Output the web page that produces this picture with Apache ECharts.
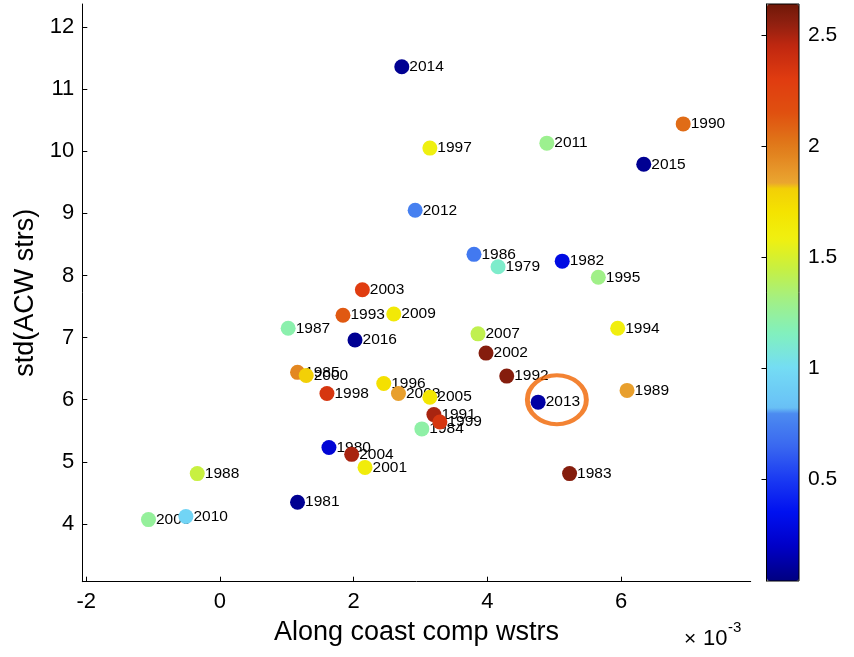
<!DOCTYPE html>
<html>
<head>
<meta charset="utf-8">
<script src="https://cdn.jsdelivr.net/npm/echarts@6/dist/echarts.min.js"></script>
<style>html,body{margin:0;padding:0;background:#fff;}#c{width:854px;height:657px;}</style>
</head>
<body>
<div id="c"></div>
<script>
// ---- data ----
const years = ['2014','1997','2011','1990','2015','2012','1986','1979','1982','1995',
  '2003','1993','2009','1987','2016','2007','2002','1994','1985','2000',
  '1998','1996','2008','2005','1991','1999','1984','1992','2013','1989',
  '1980','2004','2001','1983','1988','1981','2006','2010'];
const xVals = [2.72,3.14,4.89,6.93,6.34,2.92,3.80,4.16,5.12,5.66,
  2.13,1.84,2.60,1.02,2.02,3.86,3.98,5.95,1.16,1.29,
  1.60,2.45,2.67,3.14,3.20,3.29,3.02,4.29,4.76,6.09,
  1.63,1.97,2.17,5.23,-0.34,1.16,-1.07,-0.51];
const yVals = [11.36,10.05,10.13,10.44,9.79,9.05,8.34,8.14,8.23,7.97,
  7.77,7.36,7.38,7.15,6.96,7.06,6.75,7.15,6.44,6.39,
  6.10,6.26,6.10,6.04,5.76,5.64,5.53,6.38,5.96,6.15,
  5.23,5.12,4.91,4.81,4.81,4.35,4.07,4.12];
const cVals = [0.08,1.58,1.28,2.05,0.08,0.75,0.72,1.12,0.30,1.30,
  2.30,2.12,1.65,1.20,0.08,1.42,2.58,1.60,1.95,1.80,
  2.35,1.72,1.86,1.68,2.50,2.35,1.22,2.58,0.12,1.86,
  0.25,2.50,1.62,2.58,1.45,0.08,1.25,0.95];
const xTicks = [-2,0,2,4,6];
const yTicks = [4,5,6,7,8,9,10,11,12];
const cTicks = [0.5,1,1.5,2,2.5];
const highlight = [[5.04, 6.00]];

// ---- style: colormap ----
const cMin = 0.04, cMax = 2.64;
const cmapStops = [
  [0.04,'#000080'],[0.20,'#0000c8'],[0.35,'#0010f0'],[0.50,'#1a3af2'],[0.65,'#3a68f0'],
  [0.798,'#4c8cf0'],[0.802,'#66bcf4'],[0.85,'#6ac4f6'],[1.00,'#74dcf4'],[1.15,'#80f0c0'],
  [1.30,'#a0f088'],[1.45,'#c8f040'],[1.58,'#f0f010'],[1.70,'#f4e400'],[1.822,'#f2cc08'],
  [1.826,'#eaa830'],[1.90,'#e69428'],[2.00,'#e07a1a'],[2.15,'#e05010'],[2.30,'#e03c10'],
  [2.45,'#c02810'],[2.55,'#902010'],[2.64,'#701808']];
function hex2rgb(h){return [parseInt(h.slice(1,3),16),parseInt(h.slice(3,5),16),parseInt(h.slice(5,7),16)];}
function sampleCmap(v){
  for(let i=0;i<cmapStops.length-1;i++){
    const a=cmapStops[i],b=cmapStops[i+1];
    if(v<=b[0]){
      const t=Math.max(0,Math.min(1,(v-a[0])/(b[0]-a[0])));
      const ca=hex2rgb(a[1]),cb=hex2rgb(b[1]);
      return 'rgb('+ca.map((x,k)=>Math.round(x+(cb[k]-x)*t)).join(',')+')';
    }
  }
  return cmapStops[cmapStops.length-1][1];
}
const N=400, cmapColors=[];
for(let i=0;i<N;i++){cmapColors.push(sampleCmap(cMin+(cMax-cMin)*i/(N-1)));}

const pts = years.map((y,i)=>[xVals[i],yVals[i],cVals[i],y]);
const FONT = '"Liberation Sans", Arial, Helvetica, sans-serif';

const chart = echarts.init(document.getElementById('c'), null, {renderer:'canvas'});
chart.setOption({
  animation:false,
  backgroundColor:'#fff',
  textStyle:{fontFamily:FONT},
  grid:[
    {left:82.3, right:103.3, top:4, bottom:75.3, containLabel:false},
    {left:766.5, top:4, width:32.5, height:577, show:true, borderColor:'#000', borderWidth:1, backgroundColor:'rgba(0,0,0,0)', z:10}
  ],
  xAxis:[
    {type:'value', gridIndex:0, min:-2.06, max:7.94,
     axisLine:{show:true, onZero:false, lineStyle:{color:'#000', width:1}},
     axisTick:{show:true, inside:true, length:5, customValues:xTicks, lineStyle:{color:'#000'}},
     axisLabel:{show:true, customValues:xTicks, color:'#000', fontSize:22, margin:9, fontFamily:FONT},
     splitLine:{show:false},
     name:'Along coast comp wstrs', nameLocation:'middle', nameGap:37,
     nameTextStyle:{color:'#000', fontSize:27, fontFamily:FONT}},
    {type:'value', gridIndex:1, min:0, max:1, show:false}
  ],
  yAxis:[
    {type:'value', gridIndex:0, min:3.07, max:12.37,
     axisLine:{show:true, onZero:false, lineStyle:{color:'#000', width:1}},
     axisTick:{show:true, inside:true, length:5, customValues:yTicks, lineStyle:{color:'#000'}},
     axisLabel:{show:true, customValues:yTicks, color:'#000', fontSize:22, margin:8, fontFamily:FONT},
     splitLine:{show:false},
     name:'std(ACW strs)', nameLocation:'middle', nameGap:37, nameRotate:90,
     nameTextStyle:{color:'#000', fontSize:27, fontFamily:FONT}},
    {type:'value', gridIndex:1, min:cMin, max:cMax, position:'right', z:10,
     axisLine:{show:true, lineStyle:{color:'#000', width:1}},
     axisTick:{show:true, inside:true, length:5, customValues:cTicks, lineStyle:{color:'#000'}},
     axisLabel:{show:true, customValues:cTicks, color:'#000', fontSize:21, margin:9, fontFamily:FONT},
     splitLine:{show:false}}
  ],
  visualMap:[{
    type:'continuous', min:cMin, max:cMax, dimension:2, seriesIndex:1,
    calculable:false, hoverLink:false, realtime:false, padding:0,
    left:767, top:4, itemWidth:32, itemHeight:577, text:null, showLabel:false,
    inRange:{color:cmapColors}, z:5
  }],
  series:[
    {type:'scatter', xAxisIndex:0, yAxisIndex:0, z:2, silent:true,
     symbolSize:15, itemStyle:{color:'rgba(255,255,255,0)'},
     data:pts,
     label:{show:true, position:'right', distance:0, formatter:p=>p.value[3],
            color:'#000', opacity:1, textBorderWidth:0, fontSize:15.5, fontFamily:FONT}},
    {type:'scatter', xAxisIndex:0, yAxisIndex:0, z:3, silent:true,
     symbolSize:15, itemStyle:{opacity:1},
     data:pts.map(p=>[p[0],p[1],p[2]])},
    {type:'scatter', xAxisIndex:0, yAxisIndex:0, z:4, silent:true,
     symbol:'circle', symbolSize:[59,49],
     itemStyle:{color:'rgba(0,0,0,0)', borderColor:'#f06400', borderWidth:4.5},
     data:highlight}
  ],
  graphic:[
    {type:'text', left:684, top:629, style:{text:'\u00d7', fontSize:21, fill:'#000', fontFamily:FONT}},
    {type:'text', left:703, top:628, style:{text:'10', fontSize:22, fill:'#000', fontFamily:FONT}},
    {type:'text', left:728, top:620, style:{text:'-3', fontSize:15, fill:'#000', fontFamily:FONT}}
  ]
});
</script>
</body>
</html>
